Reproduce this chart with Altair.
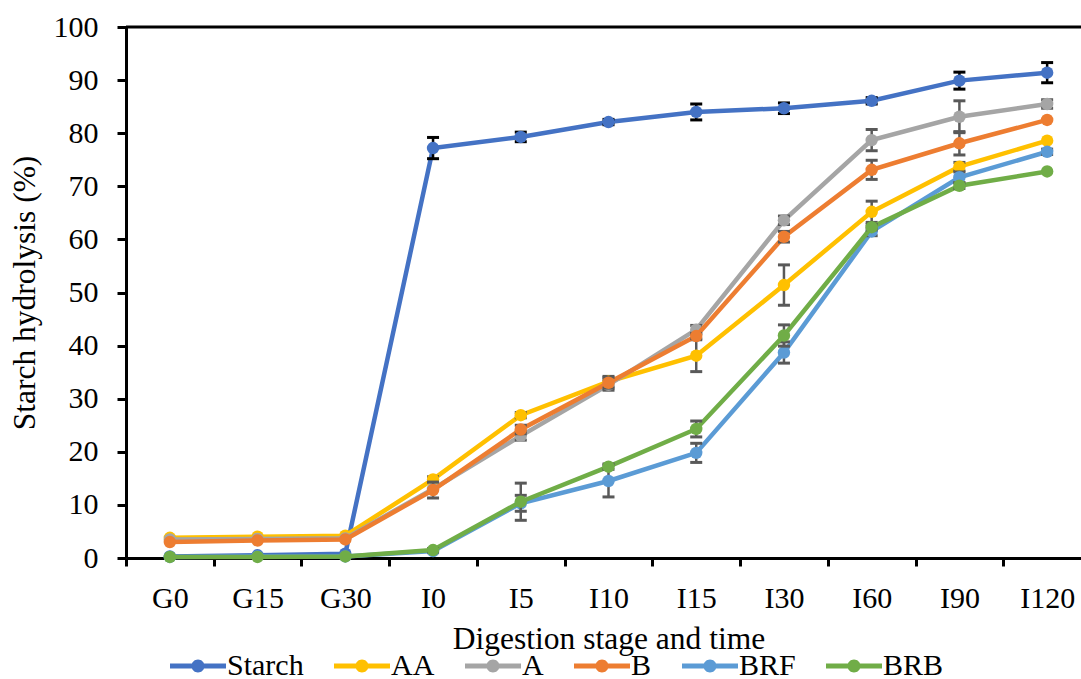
import altair as alt
import pandas as pd

categories = ["G0", "G15", "G30", "I0", "I5", "I10", "I15", "I30", "I60", "I90", "I120"]
series_names = ["Starch", "AA", "A", "B", "BRF", "BRB"]
colors = ["#4472C4", "#FFC000", "#A5A5A5", "#ED7D31", "#5B9BD5", "#70AD47"]
err_colors = ["#000000", "#595959", "#595959", "#595959", "#595959", "#595959"]

starch = [0.3, 0.5, 0.8, 77.2, 79.3, 82.1, 84.0, 84.7, 86.1, 89.9, 91.4]
starch_err = [0, 0, 0, 2.0, 0.9, 0.5, 1.5, 1.0, 0.6, 1.6, 1.9]
aa = [3.8, 4.0, 4.2, 14.8, 26.9, 33.2, 38.1, 51.4, 65.2, 73.7, 78.6]
aa_err = [0, 0, 0, 0.5, 0.5, 1.0, 3.0, 3.8, 2.0, 0.8, 0]
a = [3.5, 3.6, 3.7, 13.0, 23.0, 32.6, 43.0, 63.6, 78.7, 83.1, 85.5]
a_err = [0, 0, 0, 0, 0.8, 1.0, 0.8, 0.8, 2.0, 3.0, 0.8]
b = [3.0, 3.3, 3.5, 12.8, 24.2, 33.0, 41.8, 60.5, 73.1, 78.1, 82.5]
b_err = [0, 0, 0, 1.5, 0.8, 1.0, 0.5, 1.0, 1.8, 2.2, 0]
brf = [0.2, 0.3, 0.3, 1.3, 10.3, 14.5, 19.8, 38.7, 61.5, 71.7, 76.5]
brf_err = [0, 0, 0, 0.3, 1.5, 3.0, 1.8, 2.0, 0.8, 1.0, 0.5]
brb = [0.2, 0.2, 0.3, 1.5, 10.6, 17.2, 24.3, 41.9, 62.3, 70.1, 72.8]
brb_err = [0, 0, 0, 0.3, 3.5, 0.5, 1.5, 2.0, 0.5, 0.5, 0]

all_vals = [starch, aa, a, b, brf, brb]
all_errs = [starch_err, aa_err, a_err, b_err, brf_err, brb_err]

rows = []
for name, vals, errs in zip(series_names, all_vals, all_errs):
    for c, v, e in zip(categories, vals, errs):
        rows.append({"stage": c, "series": name, "value": v, "err": e,
                     "lo": v - e, "hi": v + e})
df = pd.DataFrame(rows)

FONT = "Liberation Serif"
FS = 30
TFS = 31.5
W, H = 955, 531

xscale = alt.Scale(type="band", domain=categories, range=[0, 965],
                   paddingInner=0, paddingOuter=0)
yscale = alt.Scale(domain=[0, 100], nice=False)

xaxis = alt.Axis(title="Digestion stage and time", tickBand="extent", labelAngle=0,
                 tickSize=8, tickWidth=3, domainWidth=3, tickColor="black",
                 domainColor="black", labelPadding=17, labelFont=FONT,
                 labelFontSize=FS, labelColor="black", titleFont=FONT,
                 titleFontSize=TFS, titleFontWeight="normal", titleColor="black",
                 titlePadding=10, grid=False)
yaxis = alt.Axis(title="Starch hydrolysis (%)", values=list(range(0, 101, 10)),
                 tickSize=9, tickWidth=3, domainWidth=3, tickColor="black",
                 domainColor="black", labelPadding=19, labelFont=FONT,
                 labelFontSize=FS, labelColor="black", titleFont=FONT,
                 titleFontSize=TFS, titleFontWeight="normal", titleColor="black",
                 titlePadding=12, grid=False)

sym_path = ("M-1,-0.5 L3.6,-0.5 L3.6,0.5 L-1,0.5 Z "
            "M5.6,-0.5 L10.2,-0.5 L10.2,0.5 L5.6,0.5 Z "
            "M5.9,0 A1.3,1.3 0 1,1 3.3,0 A1.3,1.3 0 1,1 5.9,0 Z")

legend = alt.Legend(title=None, orient="none", direction="horizontal", columns=6,
                    legendX=34, legendY=624, symbolType=sym_path, symbolSize=100,
                    symbolStrokeWidth=0, symbolOpacity=1, labelOffset=37,
                    labelFont=FONT, labelFontSize=FS, labelColor="black",
                    columnPadding=20)

x = alt.X("stage:N", scale=xscale, axis=xaxis, sort=categories)
y = alt.Y("value:Q", scale=yscale, axis=yaxis)

layers = []
top = alt.Chart(pd.DataFrame({"v": [100]})).mark_rule(
    color="black", strokeWidth=3).encode(
    y=alt.Y("v:Q", scale=yscale, axis=yaxis), x=alt.value(0), x2=alt.value(965))
layers.append(top)

for name, col, ecol in zip(series_names, colors, err_colors):
    base = alt.Chart(df).transform_filter(alt.datum.series == name)
    line = base.mark_line(strokeWidth=4.5, color=col).encode(x=x, y=y)
    eb = base.transform_filter(alt.datum.err > 0)
    rule = eb.mark_rule(color=ecol, strokeWidth=2.5).encode(
        x=x, y=alt.Y("lo:Q", scale=yscale, axis=yaxis), y2="hi:Q")
    cap_lo = eb.mark_tick(color=ecol, thickness=3, size=12, opacity=1).encode(
        x=x, y=alt.Y("lo:Q", scale=yscale, axis=yaxis))
    cap_hi = eb.mark_tick(color=ecol, thickness=3, size=12, opacity=1).encode(
        x=x, y=alt.Y("hi:Q", scale=yscale, axis=yaxis))
    pts = base.mark_point(filled=True, size=155, opacity=1).encode(
        x=x, y=y,
        color=alt.Color("series:N", scale=alt.Scale(domain=series_names, range=colors),
                        legend=legend))
    layers += [line, rule, cap_lo, cap_hi, pts]

chart = alt.layer(*layers).properties(
    width=W, height=H,
    autosize=alt.AutoSizeParams(type="none"),
    padding={"left": 126, "top": 27, "right": 0, "bottom": 121},
    background="white",
).configure(font=FONT).configure_view(stroke=None).configure_legend(
    labelFont=FONT, labelFontSize=FS, labelColor="black"
).configure_axis(labelFont=FONT, titleFont=FONT)

chart.save("out.html", embed_options={"renderer": "svg", "actions": False})
